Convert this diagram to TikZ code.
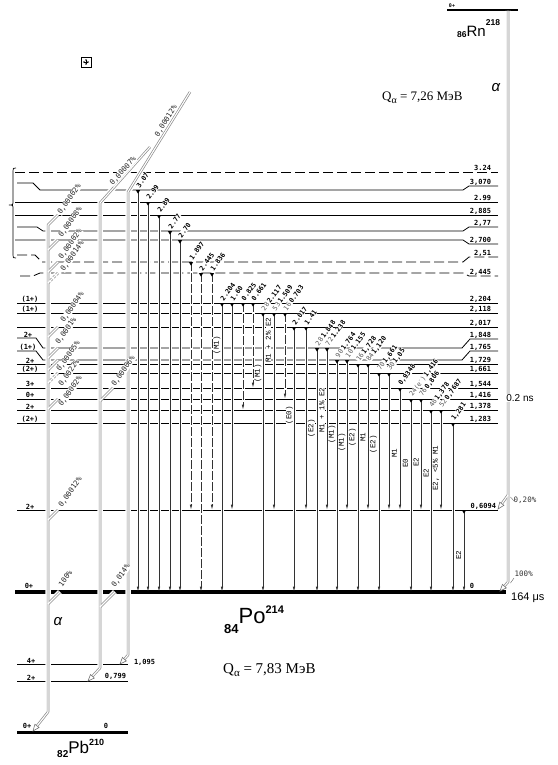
\documentclass[tikz,border=0pt]{standalone}
\usepackage{fontspec}
\setmainfont{Liberation Serif}
\newfontfamily\numf{DejaVu Sans Mono}
\newfontfamily\sansf{Liberation Sans}
\newfontfamily\mlf{Liberation Mono}
\usetikzlibrary{arrows.meta,calc}
\newcommand\gi[1]{{\mdseries\color{black!65}#1}\,}
\newcommand\gline[5]{%
  \draw[halo] (#1,#2+1.5) -- (#1,#3-4);
  \draw[#5] (#1,#2) -- (#1,#3-0.3);
  \fill[black] (#1-2.2,#2) -- (#1+2.2,#2) -- (#1,#2+3.6) -- cycle;
  \node[glab] (g#1) at (#1-0.3,#2-3) {#4};
}
\newcommand\ohead[3]{\draw[ahead] (#1,#2) -- +(#3+22:7) -- +(#3-22:7) -- cycle;}
\newcommand\alphapaths[1]{%
 \draw[shorten >=3pt,#1] (58,215) -- (48,225) -- (48,712) -- (33,731);
 \draw[shorten >=3pt,#1] (150,147) -- (100,203) -- (100,668) -- (88,681);
 \draw[shorten >=3pt,#1] (190,92) -- (128,192) -- (128,655) -- (120,664);
 \draw[shorten >=3pt,#1] (508,11) -- (508,582) -- (500,591);
 \draw[shorten >=3pt,#1] (508,495) -- (498,509);
 \draw[#1] (58,240) -- (48,250);
 \draw[#1] (58,262) -- (48,272);
 \draw[#1] (58,327) -- (48,337);
 \draw[#1] (58,348) -- (48,358);
 \draw[#1] (58,360) -- (48,370);
 \draw[#1] (58,399) -- (48,409);
 \draw[#1] (58,510) -- (48,520);
 \draw[#1] (60,592) -- (48,604);
 \draw[#1] (113,388) -- (100,401);
 \draw[#1] (115,592) -- (100,607);
}
\newcommand\alphadashed[1]{%
 \draw[#1] (58,273) -- (48,283);
 \draw[#1] (58,373) -- (48,383);
}
\begin{document}
\begin{tikzpicture}[x=1pt,y=-1pt,
  lvl/.style={line width=0.8pt},
  lvld/.style={line width=0.8pt,dash pattern=on 10pt off 4pt},
  gam/.style={line width=0.6pt,draw=black!80,-{Latex[length=5pt,width=2.4pt]}},
  gamd/.style={gam,dash pattern=on 9pt off 2pt},
  halo/.style={line width=3pt,draw=white},
  ahalo/.style={line width=5.5pt,draw=white,shorten >=9pt},
  agray/.style={line width=2.5pt,draw=black!45,line join=round},
  awhite/.style={line width=1.1pt,draw=white,line join=round},
  ahead/.style={draw=black!55,fill=white,line width=0.6pt,line join=miter},
  glab/.style={font=\numf\bfseries\fontsize{6.6}{6.6}\selectfont,rotate=54,anchor=west,inner sep=0.3pt,fill=white},
  plabf/.style={font=\numf\fontsize{7.3}{7.3}\selectfont,text=black!85,inner sep=0.3pt,fill=white},
  plab/.style={plabf,rotate=55,anchor=west},
  mlab/.style={font=\mlf\fontsize{7.5}{7.5}\selectfont,rotate=90,inner sep=0.3pt,fill=white},
  rlab/.style={font=\numf\bfseries\fontsize{7}{7}\selectfont,anchor=south east,inner sep=0.8pt},
  slab/.style={font=\numf\bfseries\fontsize{7}{7}\selectfont,anchor=south,inner sep=0.8pt},
]
\useasboundingbox (0,0) rectangle (557,765);

% ---------- Po-214 levels ----------
\draw[lvld] (15,172) -- (498,172);
\draw[lvl] (17,183) -- (33,183) -- (40,190) -- (463,190) -- (469,186) -- (498,186);
\draw[lvl] (15,202) -- (498,202);
\draw[lvl] (15,215) -- (498,215);
\draw[lvl] (17,227) -- (37,227) -- (43,231) -- (463,231) -- (469,227) -- (498,227);
\draw[lvl] (15,240) -- (463,240) -- (469,244) -- (498,244);
\draw[lvld] (17,255) -- (35,255) -- (42,262) -- (463,262) -- (469,257) -- (498,257);
\draw[lvld] (20,276) -- (33,276) -- (40,273) -- (463,273) -- (469,276) -- (498,276);
\draw[lvl] (17,303) -- (498,303);
\draw[lvl] (17,313) -- (498,313);
\draw[lvl] (17,327) -- (498,327);
\draw[lvl] (17,338) -- (36,338) -- (43,348) -- (462,348) -- (470,339) -- (498,339);
\draw[lvl] (17,351) -- (36,351) -- (43,360) -- (462,360) -- (470,351) -- (498,351);
\draw[lvl] (17,364) -- (498,364);
\draw[lvl] (17,373) -- (498,373);
\draw[lvl] (17,388) -- (498,388);
\draw[lvl] (17,399) -- (498,399);
\draw[lvl] (17,410) -- (498,410);
\draw[lvl] (17,423) -- (498,423);
\draw[lvl] (17,510) -- (498,510);
\draw[line width=3.5pt] (15,592) -- (506,592);

% ---------- Pb-210 and Rn-218 levels ----------
\draw[lvl] (17,664) -- (128,664);
\draw[lvl] (17,681) -- (128,681);
\draw[line width=3pt] (17,732) -- (128,732);
\draw[line width=2.5pt] (447,10) -- (518,10);

% ---------- brace ----------
\draw[line width=0.7pt] (16,168) .. controls (13,168) .. (13,171) -- (13,201)
  .. controls (13,205) .. (9,205) .. controls (13,205) .. (13,209) -- (13,255)
  .. controls (13,258) .. (16,258);

% ---------- gamma transitions ----------
\gline{138}{190}{592}{3.07}{gam}
\gline{148}{202}{592}{2.99}{gam}
\gline{159}{215}{592}{2.89}{gam}
\gline{170}{231}{592}{2.77}{gam}
\gline{180}{240}{592}{2.70}{gam}
\gline{191}{262}{510}{1.897}{gamd}
\gline{201}{273}{592}{2.445}{gamd}
\gline{212}{273}{510}{1.836}{gamd}
\gline{222}{303}{592}{2.204}{gam}
\gline{232}{303}{510}{1.60}{gam}
\gline{243}{303}{410}{0.825}{gamd}
\gline{253}{303}{388}{0.661}{gamd}
\gline{263}{313}{592}{\gi{28}2.117}{gam}
\gline{274}{313}{510}{\gi{53}1.509}{gam}
\gline{285}{313}{399}{\gi{16}0.703}{gamd}
\gline{294}{327}{592}{2.017}{gam}
\gline{306}{327}{510}{1.41}{gam}
\gline{317}{348}{592}{\gi{28}1.848}{gam}
\gline{327}{348}{510}{\gi{72}1.238}{gam}
\gline{337}{360}{592}{\gi{90}1.764}{gam}
\gline{347}{360}{510}{\gi{10}1.155}{gam}
\gline{358}{364}{592}{\gi{16}1,728}{gam}
\gline{368}{364}{510}{\gi{84}1,120}{gam}
\gline{379}{373}{592}{\gi{70}1,661}{gam}
\gline{389}{373}{510}{\gi{30}1,05}{gam}
\gline{400}{388}{510}{0,9348}{gam}
\gline{411}{399}{592}{\gi{24(e\textsuperscript{-})}1,416}{gam}
\gline{421}{399}{510}{\gi{76}0,806}{gam}
\gline{431}{410}{592}{\gi{48}1,378}{gam}
\gline{441}{410}{510}{\gi{52}0,7687}{gam}
\gline{453}{423}{592}{1,281}{gam}
\draw[halo] (464,511.5) -- (464,588);
\draw[gam] (464,510) -- (464,591.7);
\fill[black] (461.8,510) -- (466.2,510) -- (464,513.6) -- cycle;

% ---------- alpha transitions ----------
\alphapaths{ahalo}\alphadashed{ahalo}
\alphapaths{agray}\alphadashed{agray,dash pattern=on 2.5pt off 1.5pt}
\alphapaths{awhite}\alphadashed{awhite}
\ohead{33}{731}{-52}
\ohead{88}{681}{-47}
\ohead{120}{664}{-48}
\ohead{500}{591}{-48}
\ohead{498}{509}{-54}
\draw[line width=0.4pt,black!60] (510.5,497) -- (514,501);
\draw[line width=0.4pt,black!60] (514,578) -- (510.5,583);

% ---------- multipolarity labels ----------
\node[mlab] (m1) at (217,345) {(M1)};
\node[mlab] (m2) at (258,373) {(M1)};
\node[mlab] (m3) at (268.5,340) {M1 + 2\% E2};
\node[mlab] (m4) at (289.5,415) {(E0)};
\node[mlab] (m5) at (311.5,428) {(E2)};
\node[mlab] (m6) at (322,410) {M1 + 1\% E2};
\node[mlab] (m7) at (332,434) {(M1)};
\node[mlab] (m8) at (342,442) {(M1)};
\node[mlab] (m9) at (352.5,437) {(E2)};
\node[mlab] (m10) at (363,437) {M1};
\node[mlab] (m11) at (373.5,444) {(E2)};
\node[mlab] (m12) at (394.5,453) {M1};
\node[mlab] (m13) at (405.5,463) {E0};
\node[mlab] (m14) at (416,462) {E2};
\node[mlab] (m15) at (426,473) {E2};
\node[mlab] (m16) at (436,468) {E2, <5\% M1};
\node[mlab] (m17) at (458.5,555) {E2};

% ---------- alpha branch labels ----------
\node[plab] (p1) at (59,214) {0,00002\%};
\node[plab] (p2) at (60,237) {0,00008\%};
\node[plab] (p3) at (60,259) {0,00002\%};
\node[plab] (p4) at (62,271) {0,00014\%};
\node[plab] (p5) at (62,322) {0,00004\%};
\node[plab] (p6) at (57,344) {0,0001\%};
\node[plab] (p7) at (58,371) {0,00005\%};
\node[plab] (p8) at (60,386) {0,0022\%};
\node[plab] (p9) at (60,406) {0,00002\%};
\node[plab] (p10) at (60,507) {0,00012\%};
\node[plab] (p11) at (60,586) {100\%};
\node[plabf,rotate=48] (p12) at (123,171) {0,00007\%};
\node[plabf,rotate=58] (p15) at (166,121) {0,00012\%};
\node[plab] (p13) at (113,386) {0,00006\%};
\node[plab] (p14) at (113,587) {0,014\%};
\node[font=\numf\fontsize{7.5}{7.5}\selectfont,text=black!80,anchor=west,inner sep=0.5pt] (p16) at (513,500) {0,20\%};
\node[font=\numf\fontsize{7.5}{7.5}\selectfont,text=black!80,anchor=west,inner sep=0.5pt] (p17) at (514,574) {100\%};

% ---------- level energies (right) ----------
\node[rlab] (e1) at (492,172) {3.24};
\node[rlab] (e2) at (492,186) {3,070};
\node[rlab] (e3) at (492,202) {2.99};
\node[rlab] (e4) at (492,215) {2,885};
\node[rlab] (e5) at (492,227) {2,77};
\node[rlab] (e6) at (492,244) {2,700};
\node[rlab] (e7) at (492,257) {2,51};
\node[rlab] (e8) at (492,276) {2,445};
\node[rlab] (e9) at (492,303) {2,204};
\node[rlab] (e10) at (492,313) {2,118};
\node[rlab] (e11) at (492,327) {2,017};
\node[rlab] (e12) at (492,339) {1,848};
\node[rlab] (e13) at (492,351) {1,765};
\node[rlab] (e14) at (492,364) {1,729};
\node[rlab] (e15) at (492,373) {1,661};
\node[rlab] (e16) at (492,388) {1,544};
\node[rlab] (e17) at (492,399) {1,416};
\node[rlab] (e18) at (492,410) {1,378};
\node[rlab] (e19) at (492,423) {1,283};
\node[rlab] (e20) at (497,510) {0,6094};
\node[slab] (e21) at (472,589.5) {0};

% ---------- spins (left) ----------
\node[slab] (s1) at (30,303) {(1+)};
\node[slab] (s2) at (30,313) {(1+)};
\node[slab] (s3) at (28,338) {2+};
\node[slab] (s4) at (28,351) {(1+)};
\node[slab] (s5) at (30,364) {2+};
\node[slab] (s6) at (30,373) {(2+)};
\node[slab] (s7) at (30,388) {3+};
\node[slab] (s8) at (30,399) {0+};
\node[slab] (s9) at (30,410) {2+};
\node[slab] (s10) at (30,423) {(2+)};
\node[slab] (s11) at (30,510) {2+};
\node[slab] (s12) at (29,589.5) {0+};
\node[slab] (s13) at (31,664) {4+};
\node[slab] (s14) at (31,681) {2+};
\node[slab] (s15) at (27,730) {0+};
\node[slab] (s16) at (106,730) {0};
\node[slab,anchor=south east] (s17) at (127,680) {0,799};
\node[slab,anchor=west] (s18) at (133,662) {1,095};
\node[font=\numf\bfseries\fontsize{5}{5}\selectfont,anchor=south,inner sep=0.6pt] (s19) at (452,8.5) {0+};

% ---------- nuclide names and values ----------
\node[anchor=base west,inner sep=0,font=\sansf] (po) at (224,623)
  {\raisebox{-10pt}{\bfseries\fontsize{13}{13}\selectfont 84}{\fontsize{22}{22}\selectfont Po}\raisebox{10pt}{\bfseries\fontsize{11}{11}\selectfont 214}};
\node[anchor=base west,inner sep=0,font=\sansf] (pb) at (57,753)
  {\raisebox{-4pt}{\bfseries\fontsize{10}{10}\selectfont 82}{\fontsize{17}{17}\selectfont Pb}\raisebox{8pt}{\bfseries\fontsize{9}{9}\selectfont 210}};
\node[anchor=base west,inner sep=0,font=\sansf] (rn) at (457,37)
  {\raisebox{-1pt}{\bfseries\fontsize{8.5}{8.5}\selectfont 86}{\fontsize{15}{15}\selectfont Rn}\raisebox{11pt}{\bfseries\fontsize{8.5}{8.5}\selectfont 218}};
\node[anchor=base west,inner sep=0] (q1) at (223,673)
  {\fontsize{15}{15}\selectfont Q\raisebox{-3pt}{\fontsize{11}{11}\selectfont α} = 7,83 МэВ};
\node[anchor=base west,inner sep=0] (q2) at (382,101)
  {\fontsize{13}{13}\selectfont Q\raisebox{-3pt}{\fontsize{10}{10}\selectfont α} = 7,26 МэВ};
\node[font=\sansf\itshape\fontsize{15}{15}\selectfont,inner sep=0] (al1) at (58,622) {α};
\node[font=\sansf\itshape\fontsize{15}{15}\selectfont,inner sep=0] (al2) at (496,88) {α};
\node[font=\sansf\fontsize{10}{10}\selectfont,fill=white,inner sep=0.6pt] (t1) at (520,398) {0.2 ns};
\node[font=\sansf\fontsize{11}{11}\selectfont,anchor=west,inner sep=0] (t2) at (511,598) {164 μs};

% ---------- handle icon ----------
\draw[line width=0.8pt] (81,57) rectangle (91,67);
\draw[line width=0.5pt,{Stealth[length=1.6pt,width=2pt]}-{Stealth[length=1.6pt,width=2pt]}] (83,62) -- (89,62);
\draw[line width=0.5pt,{Stealth[length=1.6pt,width=2pt]}-{Stealth[length=1.6pt,width=2pt]}] (86,59) -- (86,65);
\end{tikzpicture}
\end{document}
